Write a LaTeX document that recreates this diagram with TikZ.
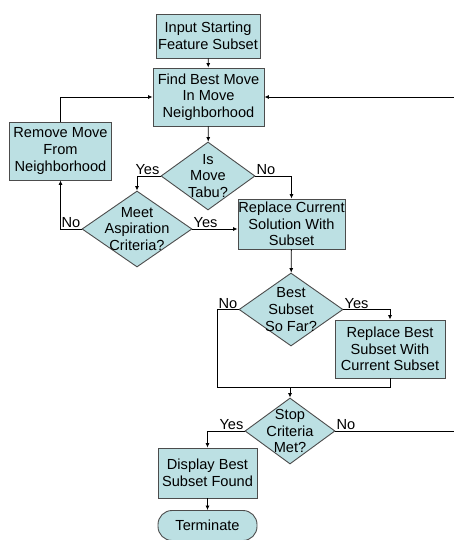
\documentclass[tikz,border=0pt]{standalone}
\usepackage{fontspec}
\setmainfont{Liberation Sans}
\usetikzlibrary{arrows.meta,shapes.geometric}
\definecolor{boxfill}{HTML}{BCE0E3}

\begin{document}
\begin{tikzpicture}[x=1pt,y=-1pt,>={Latex[length=4.5pt,width=4pt]},font=\fontsize{14.6}{16.7}\selectfont,
  box/.style={draw=black!70,fill=boxfill,line width=0.9pt,align=center,inner sep=0pt},
  decide/.style={diamond,draw=black!70,fill=boxfill,line width=0.9pt,align=center,inner sep=-30pt},
  lbl/.style={inner sep=1pt},
  flow/.style={->,line width=0.8pt}]
\useasboundingbox (0,0) rectangle (454,540); \clip (0,0) rectangle (454,540);
\node[box,minimum width=104,minimum height=44] (input) at (208,36) {Input Starting\\Feature Subset};
\node[box,minimum width=111,minimum height=58] (find) at (208.5,97) {Find Best Move\\In Move\\Neighborhood};
\node[box,minimum width=102,minimum height=58] (remove) at (60.5,151) {Remove Move\\From\\Neighborhood};
\node[decide,minimum width=94,minimum height=68] (tabu) at (208,176) {Is\\Move\\Tabu?};
\node[decide,minimum width=110,minimum height=76] (aspir) at (137,229) {Meet\\Aspiration\\Criteria?};
\node[box,minimum width=107,minimum height=50] (repcur) at (291.5,224) {Replace Current\\Solution With\\Subset};
\node[decide,minimum width=104,minimum height=73] (best) at (291,309.5) {Best\\Subset\\So Far?};
\node[box,minimum width=110,minimum height=58] (repbest) at (390,349) {Replace Best\\Subset With\\Current Subset};
\node[decide,minimum width=90,minimum height=66] (stop) at (290,431) {Stop\\Criteria\\Met?};
\node[box,minimum width=99,minimum height=50] (display) at (207.5,473) {Display Best\\Subset Found};
\node[box,rounded corners=14,minimum width=99,minimum height=30] (term) at (207.5,525.5) {Terminate};
\coordinate (merge) at (290,387);
% connectors
\draw[flow] (input) -- (find); \draw[flow] (find) -- (tabu);
\draw[flow] (tabu.west) -| (aspir.north); \draw[flow] (tabu.east) -| (repcur.north);
\draw[flow] (aspir.east) -- (aspir.east -| repcur.west); \draw[flow] (aspir.west) -| (remove.south);
\draw[flow] (remove.north) |- (find.west);
\draw[flow] (repcur) -- (best); \draw[flow] (best.east) -| (repbest.north);
\draw[line width=0.8pt] (best.west) -- ++(-21,0) |- (merge); \draw[line width=0.8pt] (repbest.south) |- (merge);
\draw[flow] (merge) -- (stop.north);
\draw[flow] (stop.west) -| (display.north); \draw[flow] (stop.east) -- (470,431) |- (find.east);
\draw[flow] (display) -- (term);
% yes / no
\node[lbl,anchor=south east] (tabuyes) at (tabu.west) {Yes}; \node[lbl,anchor=south west] (tabuno) at (tabu.east) {No};
\node[lbl,anchor=south east] (aspirno) at (aspir.west) {No}; \node[lbl,anchor=south west] (aspiryes) at (aspir.east) {Yes};
\node[lbl,anchor=south east] (bestno) at (best.west) {No}; \node[lbl,anchor=south west] (bestyes) at (best.east) {Yes};
\node[lbl,anchor=south east] (stopyes) at (stop.west) {Yes}; \node[lbl,anchor=south west] (stopno) at (stop.east) {No};
\end{tikzpicture}
\end{document}
